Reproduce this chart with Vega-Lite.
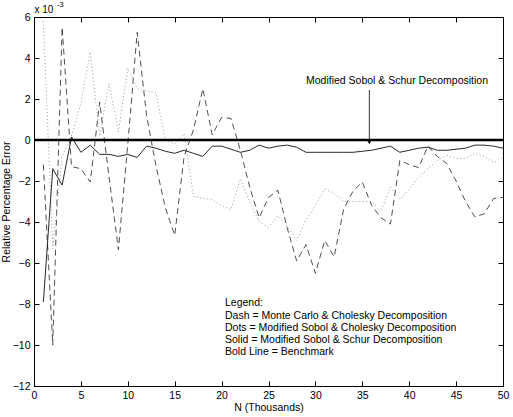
{
  "$schema": "https://vega.github.io/schema/vega-lite/v6.json",
  "width": 469,
  "height": 369,
  "autosize": {"type": "none"},
  "padding": {"left": 34, "top": 17, "right": 10, "bottom": 31},
  "config": {
    "font": "Liberation Sans",
    "view": {"stroke": "black", "strokeWidth": 1},
    "axis": {
      "grid": false,
      "domainColor": "black",
      "tickColor": "black",
      "labelColor": "black",
      "titleColor": "black",
      "labelFont": "Liberation Sans",
      "titleFont": "Liberation Sans",
      "labelFontSize": 10.5,
      "titleFontSize": 10.5,
      "titleFontWeight": "normal",
      "tickSize": -5,
      "labelPadding": 9,
      "labelFlush": false,
      "labelOverlap": false
    }
  },
  "datasets": {
    "series": [
      {"N": 1, "dash": -1.2, "dots": 5.8, "solid": -7.9},
      {"N": 2, "dash": -10.0, "dots": -5.3, "solid": -1.4},
      {"N": 3, "dash": 5.5, "dots": -0.8, "solid": -2.2},
      {"N": 4, "dash": -1.3, "dots": 0.2, "solid": 0.15},
      {"N": 5, "dash": -1.4, "dots": 1.8, "solid": -0.6},
      {"N": 6, "dash": -2.05, "dots": 4.3, "solid": -0.25},
      {"N": 7, "dash": 1.85, "dots": 0.2, "solid": -0.7},
      {"N": 8, "dash": -1.8, "dots": 2.75, "solid": -0.7},
      {"N": 9, "dash": -5.35, "dots": 0.4, "solid": -0.8},
      {"N": 10, "dash": -0.2, "dots": 3.5, "solid": -0.7},
      {"N": 11, "dash": 5.25, "dots": 2.5, "solid": -0.85},
      {"N": 12, "dash": 1.2, "dots": 2.4, "solid": -0.3},
      {"N": 13, "dash": -1.25, "dots": 2.3, "solid": -0.4},
      {"N": 14, "dash": -3.3, "dots": 0.0, "solid": -0.55},
      {"N": 15, "dash": -4.65, "dots": -0.2, "solid": -0.65},
      {"N": 16, "dash": -0.8, "dots": 0.3, "solid": -0.5},
      {"N": 17, "dash": 0.5, "dots": -2.75, "solid": -0.65},
      {"N": 18, "dash": 2.5, "dots": -2.85, "solid": -0.8},
      {"N": 19, "dash": 0.25, "dots": -2.9, "solid": -0.3},
      {"N": 20, "dash": 1.1, "dots": -3.2, "solid": -0.3},
      {"N": 21, "dash": 1.05, "dots": -3.4, "solid": -0.45},
      {"N": 22, "dash": -0.5, "dots": -1.9, "solid": -0.6},
      {"N": 23, "dash": -2.3, "dots": -3.0, "solid": -0.5},
      {"N": 24, "dash": -3.8, "dots": -4.0, "solid": -0.25},
      {"N": 25, "dash": -2.8, "dots": -4.25, "solid": -0.4},
      {"N": 26, "dash": -2.45, "dots": -3.7, "solid": -0.3},
      {"N": 27, "dash": -4.3, "dots": -4.2, "solid": -0.25},
      {"N": 28, "dash": -5.9, "dots": -4.9, "solid": -0.35},
      {"N": 29, "dash": -5.1, "dots": -3.9, "solid": -0.6},
      {"N": 30, "dash": -6.5, "dots": -3.2, "solid": -0.6},
      {"N": 31, "dash": -4.9, "dots": -2.4, "solid": -0.6},
      {"N": 32, "dash": -5.7, "dots": -2.6, "solid": -0.6},
      {"N": 33, "dash": -3.4, "dots": -3.0, "solid": -0.6},
      {"N": 34, "dash": -2.5, "dots": -3.0, "solid": -0.6},
      {"N": 35, "dash": -2.05, "dots": -3.0, "solid": -0.55},
      {"N": 36, "dash": -3.2, "dots": -3.0, "solid": -0.5},
      {"N": 37, "dash": -3.8, "dots": -3.5, "solid": -0.4},
      {"N": 38, "dash": -4.1, "dots": -2.3, "solid": -0.3},
      {"N": 39, "dash": -1.0, "dots": -2.9, "solid": -0.6},
      {"N": 40, "dash": -1.2, "dots": -2.4, "solid": -0.5},
      {"N": 41, "dash": -1.35, "dots": -1.8, "solid": -0.4},
      {"N": 42, "dash": -0.3, "dots": -1.4, "solid": -0.35},
      {"N": 43, "dash": -0.8, "dots": -1.0, "solid": -0.5},
      {"N": 44, "dash": -1.15, "dots": -0.75, "solid": -0.5},
      {"N": 45, "dash": -2.0, "dots": -0.9, "solid": -0.45},
      {"N": 46, "dash": -3.0, "dots": -0.9, "solid": -0.4},
      {"N": 47, "dash": -3.75, "dots": -0.65, "solid": -0.25},
      {"N": 48, "dash": -3.6, "dots": -0.8, "solid": -0.25},
      {"N": 49, "dash": -2.85, "dots": -1.1, "solid": -0.3},
      {"N": 50, "dash": -2.8, "dots": -0.85, "solid": -0.4}
    ],
    "notes": [
      {"N": 20.36, "v": -7.97, "t": "Legend:"},
      {"N": 20.36, "v": -8.59, "t": "Dash = Monte Carlo & Cholesky Decomposition"},
      {"N": 20.36, "v": -9.19, "t": "Dots = Modified Sobol & Cholesky Decomposition"},
      {"N": 20.36, "v": -9.76, "t": "Solid = Modified Sobol & Schur Decomposition"},
      {"N": 20.36, "v": -10.33, "t": "Bold Line = Benchmark"}
    ],
    "arrow": [
      {"N": 35.75, "v": 2.44, "v2": -0.1}
    ]
  },
  "layer": [
    {
      "data": {"name": "series"},
      "mark": {"type": "line", "color": "#222222", "strokeWidth": 0.8, "strokeDash": [6, 4], "clip": true},
      "encoding": {
        "x": {"field": "N", "type": "quantitative", "scale": {"domain": [0, 50], "nice": false},
          "axis": {"values": [0, 5, 10, 15, 20, 25, 30, 35, 40, 45, 50], "title": "N (Thousands)", "titlePadding": 2}},
        "y": {"field": "dash", "type": "quantitative", "scale": {"domain": [-12, 6], "nice": false, "zero": false},
          "axis": {"values": [-12, -10, -8, -6, -4, -2, 0, 2, 4, 6], "title": "Relative Percentage Error", "titlePadding": 1}}
      }
    },
    {
      "data": {"name": "series"},
      "mark": {"type": "line", "color": "#9a9a9a", "strokeWidth": 1, "strokeDash": [1, 2.5], "clip": true},
      "encoding": {
        "x": {"field": "N", "type": "quantitative", "axis": null},
        "y": {"field": "dots", "type": "quantitative", "axis": null}
      }
    },
    {
      "data": {"name": "series"},
      "mark": {"type": "line", "color": "#111111", "strokeWidth": 0.9, "clip": true},
      "encoding": {
        "x": {"field": "N", "type": "quantitative", "axis": null},
        "y": {"field": "solid", "type": "quantitative", "axis": null}
      }
    },
    {
      "data": {"values": [{"b": 0}]},
      "mark": {"type": "rule", "color": "black", "strokeWidth": 2.6},
      "encoding": {
        "y": {"field": "b", "type": "quantitative",
          "axis": {"orient": "right", "values": [-12, -10, -8, -6, -4, -2, 0, 2, 4, 6], "labels": false, "title": null}}
      }
    },
    {
      "data": {"name": "arrow"},
      "mark": {"type": "rule", "color": "black", "strokeWidth": 0.8},
      "encoding": {
        "x": {"field": "N", "type": "quantitative",
          "axis": {"orient": "top", "values": [0, 5, 10, 15, 20, 25, 30, 35, 40, 45, 50], "labels": false, "title": null}},
        "y": {"field": "v", "type": "quantitative", "axis": null},
        "y2": {"field": "v2"}
      }
    },
    {
      "data": {"name": "arrow"},
      "mark": {"type": "point", "shape": "triangle-down", "filled": true, "color": "black", "size": 28, "opacity": 1},
      "encoding": {
        "x": {"field": "N", "type": "quantitative", "axis": null},
        "y": {"field": "v2", "type": "quantitative", "axis": null}
      }
    },
    {
      "data": {"values": [{"N": 38.7, "v": 2.88, "t": "Modified Sobol & Schur Decomposition"}]},
      "mark": {"type": "text", "fontSize": 10.5, "align": "center", "baseline": "middle", "color": "black"},
      "encoding": {
        "x": {"field": "N", "type": "quantitative", "axis": null},
        "y": {"field": "v", "type": "quantitative", "axis": null},
        "text": {"field": "t"}
      }
    },
    {
      "data": {"name": "notes"},
      "mark": {"type": "text", "fontSize": 10.5, "align": "left", "baseline": "middle", "color": "black"},
      "encoding": {
        "x": {"field": "N", "type": "quantitative", "axis": null},
        "y": {"field": "v", "type": "quantitative", "axis": null},
        "text": {"field": "t"}
      }
    },
    {
      "data": {"values": [{"N": 0.05, "v": 6.35, "t": "x 10"}]},
      "mark": {"type": "text", "fontSize": 10, "align": "left", "baseline": "middle", "color": "black", "clip": false},
      "encoding": {
        "x": {"field": "N", "type": "quantitative", "axis": null},
        "y": {"field": "v", "type": "quantitative", "axis": null},
        "text": {"field": "t"}
      }
    },
    {
      "data": {"values": [{"N": 2.45, "v": 6.6, "t": "-3"}]},
      "mark": {"type": "text", "fontSize": 7.5, "align": "left", "baseline": "middle", "color": "black", "clip": false},
      "encoding": {
        "x": {"field": "N", "type": "quantitative", "axis": null},
        "y": {"field": "v", "type": "quantitative", "axis": null},
        "text": {"field": "t"}
      }
    }
  ],
  "resolve": {"axis": {"x": "independent", "y": "independent"}}
}
